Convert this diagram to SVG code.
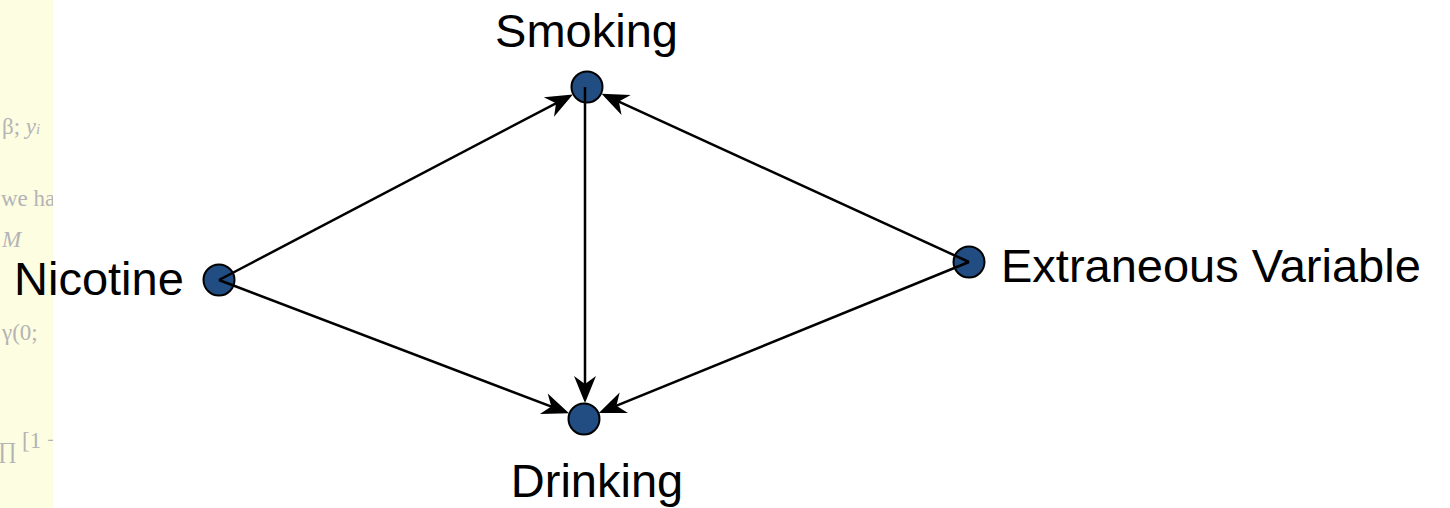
<svg xmlns="http://www.w3.org/2000/svg" width="1450" height="508" viewBox="0 0 1450 508">
<style>
.node{fill:#214D82;stroke:#000;stroke-width:2}
.lbl{font-family:"Liberation Sans",Arial,sans-serif;font-size:47px;fill:#000}
.edge{stroke:#000;stroke-width:2.5;fill:none;marker-end:url(#arr)}
.faint{font-family:"Liberation Serif","Times New Roman",serif;font-size:23px;fill:#b4b4b4}
</style>
<defs>
<marker id="arr" viewBox="-24 -13 30 26" markerWidth="30" markerHeight="26" refX="0" refY="0" orient="auto" markerUnits="userSpaceOnUse">
<path d="M4,0 L-23,-11 L-15,0 L-23,11 Z" fill="#000"/>
</marker>
<clipPath id="strip"><rect x="0" y="0" width="53" height="508"/></clipPath>
</defs>
<rect x="0" y="0" width="1450" height="508" fill="#fff"/>
<g id="background-strip">
<rect x="0" y="0" width="53" height="508" fill="#FDFDE2"/>
<g clip-path="url(#strip)">
<text class="faint" x="2" y="134">β; <tspan font-style="italic">y</tspan><tspan font-style="italic" font-size="15">i</tspan></text>
<text class="faint" x="1" y="206">we ha</text>
<text class="faint" x="2" y="247" font-size="13" font-style="italic">M</text>
<text class="faint" x="2" y="340">γ(0;</text>
<text class="faint" x="-2" y="458" font-size="44">∏</text>
<text class="faint" x="22" y="448">[1 −</text>
</g>
</g>
<g id="node-smoking">
<circle class="node" cx="587" cy="87" r="15.5"/>
<text class="lbl" x="586.5" y="47" text-anchor="middle">Smoking</text>
</g>
<g id="node-drinking">
<circle class="node" cx="584" cy="419" r="15.5"/>
<text class="lbl" x="597" y="497" text-anchor="middle">Drinking</text>
</g>
<g id="node-nicotine">
<circle class="node" cx="219" cy="280" r="15.5"/>
<text class="lbl" x="14" y="295">Nicotine</text>
</g>
<g id="node-extraneous">
<circle class="node" cx="969" cy="262" r="15.5"/>
<text class="lbl" x="1001" y="282">Extraneous Variable</text>
</g>
<g id="connectors">
<line class="edge" x1="219" y1="280" x2="569.3" y2="96.3"/>
<line class="edge" x1="219" y1="280" x2="565.3" y2="411.9"/>
<line class="edge" x1="969" y1="262" x2="605.2" y2="95.3"/>
<line class="edge" x1="969" y1="262" x2="602.5" y2="411.4"/>
<line class="edge" x1="585" y1="87" x2="585" y2="399"/>
</g>
</svg>
